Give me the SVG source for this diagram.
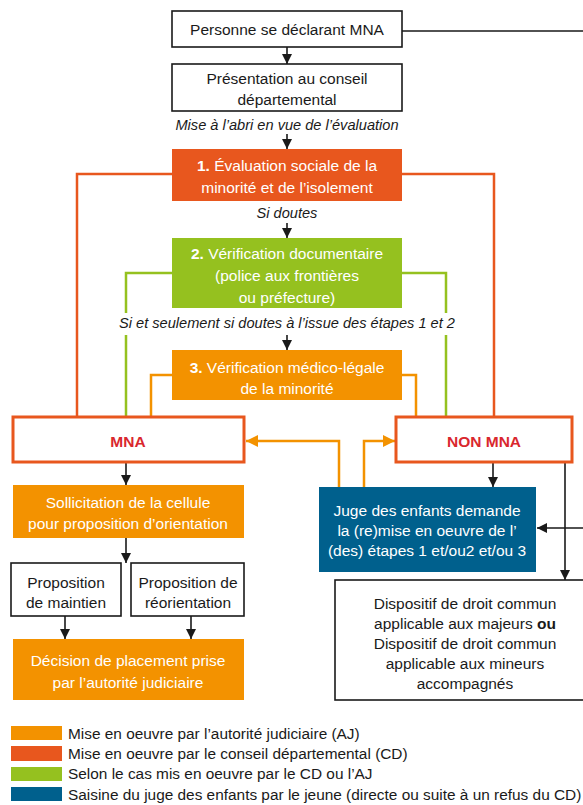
<svg xmlns="http://www.w3.org/2000/svg" width="583" height="805" viewBox="0 0 583 805">
<style>
text{font-family:"Liberation Sans",Arial,sans-serif;font-size:15.5px;fill:#1a1a1a;text-anchor:middle}
.w{fill:#fff}
.it{font-style:italic;font-size:14.6px}
.lg{text-anchor:start;font-size:15.4px}
.red{fill:#D9272E;font-weight:bold;font-size:15.5px}
.bx{fill:#fff;stroke:#1a1a1a;stroke-width:1.6}
.cd{fill:#E8571E}
.aj{fill:#F39200}
.gr{fill:#95C11F}
.bl{fill:#00608D}
.frame{fill:#fff;stroke:#E8571E;stroke-width:3}
.k{fill:none;stroke:#1a1a1a;stroke-width:1.6}
.lr{fill:none;stroke:#E8571E;stroke-width:2.5}
.lgn{fill:none;stroke:#95C11F;stroke-width:2.5}
.lo{fill:none;stroke:#F39200;stroke-width:2.5}
</style>
<defs>
<marker id="ak" markerUnits="userSpaceOnUse" markerWidth="10" markerHeight="10" refX="10" refY="5" orient="auto" viewBox="0 0 10 10"><path d="M0,0L10,5L0,10z" fill="#1a1a1a"/></marker>
<marker id="ao" markerUnits="userSpaceOnUse" markerWidth="12" markerHeight="12" refX="12" refY="6" orient="auto" viewBox="0 0 12 12"><path d="M0,0L12,6L0,12z" fill="#F39200"/></marker>
</defs>

<g id="connectors">
<path class="lr" d="M172,174H77V418"/>
<path class="lr" d="M402,174H494V418"/>
<path class="lgn" d="M172,273H126V313M126,335V418"/>
<path class="lgn" d="M402,273H446V313M446,335V418"/>
<path class="lo" d="M172,375H151V418"/>
<path class="lo" d="M402,375H416V418"/>
<path class="k" d="M287,47V64" marker-end="url(#ak)"/>
<path class="k" d="M287,134V149" marker-end="url(#ak)"/>
<path class="k" d="M287,223V238" marker-end="url(#ak)"/>
<path class="k" d="M287,335V350" marker-end="url(#ak)"/>
<path class="k" d="M402,31H588V528H537" marker-end="url(#ak)"/>
<path class="lo" d="M339,487V441H246" marker-end="url(#ao)"/>
<path class="lo" d="M364,487V441H395" marker-end="url(#ao)"/>
<path class="k" d="M126,462V485" marker-end="url(#ak)"/>
<path class="k" d="M493,462V487" marker-end="url(#ak)"/>
<path class="k" d="M565,462V580" marker-end="url(#ak)"/>
<path class="k" d="M126,538V563" marker-end="url(#ak)"/>
<path class="k" d="M65,616V639" marker-end="url(#ak)"/>
<path class="k" d="M191,616V639" marker-end="url(#ak)"/>
<text class="it" x="287" y="130">Mise à l’abri en vue de l’évaluation</text>
<text class="it" x="287" y="218">Si doutes</text>
<text class="it" x="287" y="328">Si et seulement si doutes à l’issue des étapes 1 et 2</text>
</g>

<g id="personne"><rect class="bx" x="172" y="11" width="230" height="36"/><text x="287" y="34.5">Personne se déclarant MNA</text></g>
<g id="presentation"><rect class="bx" x="172" y="64" width="230" height="47"/><text x="287" y="83.5">Présentation au conseil</text><text x="287" y="104.5">départemental</text></g>
<g id="etape1"><rect class="cd" x="172" y="149" width="230" height="52"/><text class="w" x="287" y="170.5"><tspan font-weight="bold">1.</tspan> Évaluation sociale de la</text><text class="w" x="287" y="192.5">minorité et de l’isolement</text></g>
<g id="etape2"><rect class="gr" x="172" y="238" width="230" height="70"/><text class="w" x="287" y="258.5"><tspan font-weight="bold">2.</tspan> Vérification documentaire</text><text class="w" x="287" y="280.5">(police aux frontières</text><text class="w" x="287" y="302.5">ou préfecture)</text></g>
<g id="etape3"><rect class="aj" x="172" y="350" width="230" height="50"/><text class="w" x="287" y="372.5"><tspan font-weight="bold">3.</tspan> Vérification médico-légale</text><text class="w" x="287" y="393.5">de la minorité</text></g>
<g id="mna"><rect class="frame" x="13" y="417" width="231" height="45"/><text class="red" x="128" y="446.5">MNA</text></g>
<g id="nonmna"><rect class="frame" x="396" y="417" width="176" height="45"/><text class="red" x="484" y="446.5">NON MNA</text></g>
<g id="sollicitation"><rect class="aj" x="13" y="485" width="231" height="53"/><text class="w" x="128" y="507.5">Sollicitation de la cellule</text><text class="w" x="128" y="528.5">pour proposition d’orientation</text></g>
<g id="juge"><rect class="bl" x="319" y="487" width="217" height="85"/><text class="w" x="427" y="515.5">Juge des enfants demande</text><text class="w" x="427" y="535.5">la (re)mise en oeuvre de l’</text><text class="w" x="427" y="555.5">(des) étapes 1 et/ou2 et/ou 3</text></g>
<g id="maintien"><rect class="bx" x="11" y="563" width="110" height="53"/><text x="66" y="587.5">Proposition</text><text x="66" y="607.5">de maintien</text></g>
<g id="reorientation"><rect class="bx" x="131" y="563" width="113" height="53"/><text x="188" y="587.5">Proposition de</text><text x="188" y="607.5">réorientation</text></g>
<g id="decision"><rect class="aj" x="13" y="639" width="231" height="61"/><text class="w" x="128" y="665.5">Décision de placement prise</text><text class="w" x="128" y="687.5">par l’autorité judiciaire</text></g>
<g id="dispositif"><rect class="bx" x="335" y="580" width="262" height="120"/><text x="465" y="608.5">Dispositif de droit commun</text><text x="465" y="628.5">applicable aux majeurs <tspan font-weight="bold">ou</tspan></text><text x="465" y="648.5">Dispositif de droit commun</text><text x="465" y="668.5">applicable aux mineurs</text><text x="465" y="688.5">accompagnés</text></g>

<g id="legend">
<rect class="aj" x="11" y="726" width="51" height="14"/><text class="lg" x="68" y="738.5">Mise en oeuvre par l’autorité judiciaire (AJ)</text>
<rect class="cd" x="11" y="746" width="51" height="15"/><text class="lg" x="68" y="758.5">Mise en oeuvre par le conseil départemental (CD)</text>
<rect class="gr" x="11" y="767" width="51" height="14"/><text class="lg" x="68" y="778.5">Selon le cas mis en oeuvre par le CD ou l’AJ</text>
<rect class="bl" x="11" y="787" width="51" height="14"/><text class="lg" x="68" y="799.5">Saisine du juge des enfants par le jeune (directe ou suite à un refus du CD)</text>
</g>
</svg>
